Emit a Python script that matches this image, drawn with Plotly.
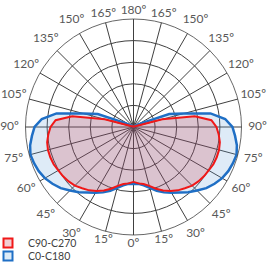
import plotly.graph_objects as go

# Half-plane angles (deg from nadir) and intensities, mirrored for the other half
angles = list(range(0, 181, 5))
c0_c180 = [132, 132, 137, 146, 157, 167, 176, 185, 197, 208, 220, 229, 237,
           242, 245, 247, 243, 236, 229, 213, 181, 120, 88, 23, 7,
           2, 2, 2, 2, 2, 2, 2, 2, 2, 2, 2, 2]
c90_c270 = [127, 131, 134, 141, 152, 162, 171, 179, 185, 192, 196, 199, 201,
            204, 205, 205, 203, 198, 192, 181, 144, 69, 9, 5, 2,
            2, 2, 2, 2, 2, 2, 2, 2, 2, 2, 2, 2]
series_names = ["C0-C180", "C90-C270"]
line_colors = ["#1F6FC5", "#F01818"]
fill_colors = ["rgba(91,155,213,0.2)", "rgba(205,0,10,0.17)"]
legend_fills = ["#DDEBF7", "#F2CED3"]

tick_angles = list(range(0, 360, 15))
tick_labels = [f"{a if a <= 180 else 360 - a}º" for a in tick_angles]
ring_values = [50, 100, 150, 200, 250]
r_max = 250

W, H = 272, 262
CX, CY, R = 133.5, 127, 108      # chart circle (px)
R_LAB_SIDE = 124                 # label-centre ring for side labels (px)
R_LAB_POLE = 116.5               # label-centre ring for labels near 0/180 (px)
LEG_X = -12                      # legend left edge (px)
LEG_ROWS = [243, 256]            # legend anchor rows (px from top)


def full_circle(vals):
    th = angles + [360 - a for a in reversed(angles[:-1])]
    r = vals + list(reversed(vals[:-1]))
    return th, r


def is_pole(a):
    d = a if a <= 180 else 360 - a
    return d <= 15 or d >= 165


def dom(rad):
    return dict(x=[(CX - rad) / W, (CX + rad) / W],
                y=[1 - (CY + rad) / H, 1 - (CY - rad) / H])


fig = go.Figure()
for vals, name, lc, fc in zip([c0_c180, c90_c270], series_names,
                              line_colors, fill_colors):
    th, r = full_circle(vals)
    fig.add_trace(go.Scatterpolar(
        r=r, theta=th, mode="lines", name=name, showlegend=False,
        line=dict(color=lc, width=2.5 if name == "C0-C180" else 2),
        fill="toself", fillcolor=fc, hoverinfo="skip", subplot="polar"))

# angle labels: centred text on the rims of helper polars sharing the centre
for sub, keep in [("polar2", False), ("polar3", True)]:
    th = [a for a in tick_angles if is_pole(a) == keep]
    tx = [t for a, t in zip(tick_angles, tick_labels) if is_pole(a) == keep]
    fig.add_trace(go.Scatterpolar(
        r=[1] * len(th), theta=th, mode="text", text=tx,
        textposition="middle center",
        textfont=dict(family="Lato", size=12, color="#595959"),
        cliponaxis=False, showlegend=False, hoverinfo="skip", subplot=sub))

# legend entries (square swatches), one legend per row
for name, lc, lf, leg in zip(series_names, line_colors, legend_fills,
                             ["legend2", "legend"]):
    fig.add_trace(go.Scatterpolar(
        r=[None], theta=[None], mode="markers", name=name, subplot="polar",
        legend=leg,
        marker=dict(symbol="square", size=9, color=lf,
                    line=dict(color=lc, width=2))))

leg_common = dict(x=LEG_X / W, xanchor="left", yanchor="middle",
                  bgcolor="rgba(0,0,0,0)",
                  font=dict(family="Lato", size=10.5, color="#404040"),
                  itemwidth=30)

helper_polar = lambda rad: dict(
    domain=dom(rad), bgcolor="rgba(0,0,0,0)",
    angularaxis=dict(rotation=270, direction="counterclockwise",
                     showticklabels=False, showgrid=False,
                     showline=False, ticks=""),
    radialaxis=dict(range=[0, 1], visible=False))

fig.update_layout(
    width=W, height=H,
    margin=dict(l=0, r=0, t=0, b=0, autoexpand=False),
    paper_bgcolor="white",
    font=dict(family="Lato", size=12, color="#595959"),
    polar=dict(
        domain=dom(R),
        bgcolor="white",
        angularaxis=dict(
            rotation=270, direction="counterclockwise",
            tickmode="array", tickvals=tick_angles,
            showticklabels=False,
            showgrid=True, gridcolor="#404040", gridwidth=0.8,
            showline=True, linecolor="#404040", linewidth=0.8,
            ticks=""),
        radialaxis=dict(
            range=[0, r_max], tickvals=ring_values, showticklabels=False,
            showline=False, ticks="", showgrid=True,
            gridcolor="#404040", gridwidth=0.8),
    ),
    polar2=helper_polar(R_LAB_SIDE),
    polar3=helper_polar(R_LAB_POLE),
    showlegend=True,
    legend=dict(y=1 - LEG_ROWS[0] / H, **leg_common),
    legend2=dict(y=1 - LEG_ROWS[1] / H, **leg_common),
)

fig.write_html("out.html",
               config={"displayModeBar": False},
               post_script="document.body.style.margin='0';")
